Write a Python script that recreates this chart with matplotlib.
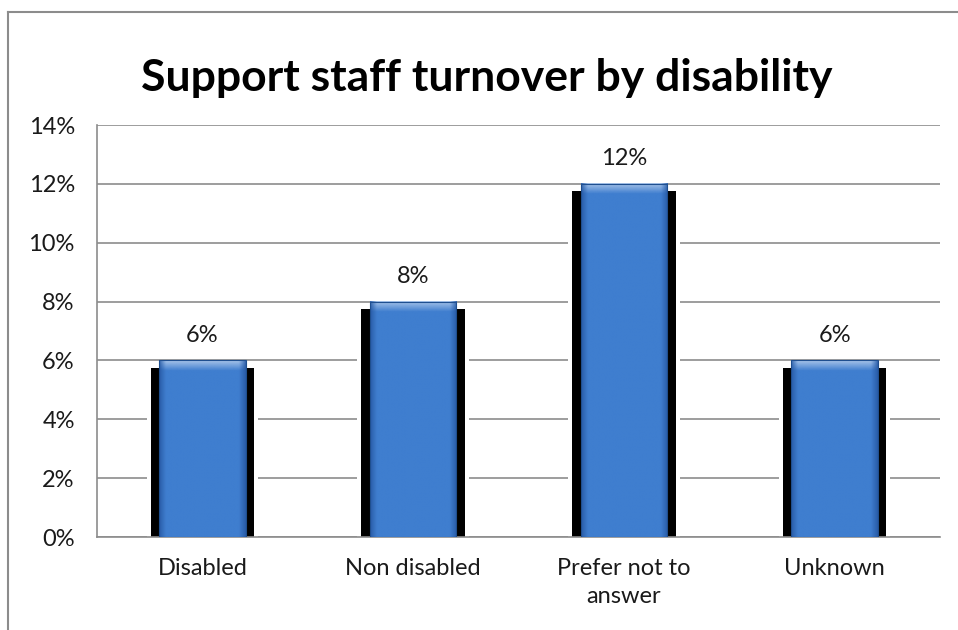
import matplotlib
matplotlib.use("Agg")
import matplotlib.pyplot as plt
import numpy as np
from matplotlib.patches import Rectangle
from matplotlib.lines import Line2D

plt.rcParams['font.family'] = ['Lato', 'DejaVu Sans']

categories = ["Disabled", "Non disabled", "Prefer not to\nanswer", "Unknown"]
turnover_pct = [6, 8, 12, 6]
y_ticks = [0, 2, 4, 6, 8, 10, 12, 14]

W, H = 958, 630
fig = plt.figure(figsize=(W / 100, H / 100), dpi=100)

# outer chart frame
fig.add_artist(Line2D([8 / W, 8 / W], [-0.01, 1 - 12 / H], color="#8c8c8c", lw=1.5))
fig.add_artist(Line2D([8 / W, 1.01], [1 - 12 / H, 1 - 12 / H], color="#8c8c8c", lw=1.5))

ax = fig.add_axes([97 / W, (H - 537) / H, 843 / W, 412 / H])
ax.set_xlim(-0.5, len(categories) - 0.5)
ax.set_ylim(0, 14)

for t in y_ticks:
    ax.axhline(t, color="#8c8c8c", lw=1.2, zorder=0)

for s in ["top", "right"]:
    ax.spines[s].set_visible(False)
ax.spines["left"].set_color("#8c8c8c")
ax.spines["bottom"].set_color("#8c8c8c")
ax.spines["left"].set_linewidth(1.2)
ax.spines["bottom"].set_linewidth(1.2)

bar_w = 0.41
shadow_w = 0.49

# horizontal shading for the bars
grad = np.linspace(0, 1, 200)
edge = np.minimum(grad, 1 - grad)
shade = np.clip(edge / 0.08, 0, 1)
base = np.array([0x3f, 0x7e, 0xcf]) / 255
dark = np.array([0x2a, 0x5c, 0xa8]) / 255
cols = dark[None, :] * (1 - shade[:, None]) + base[None, :] * shade[:, None]

for i, v in enumerate(turnover_pct):
    # dark drop shadow with a thin white rim
    ax.add_patch(Rectangle((i - shadow_w / 2 - 0.02, -0.05), shadow_w + 0.04, v,
                           facecolor="white", edgecolor="none", zorder=1))
    ax.add_patch(Rectangle((i - shadow_w / 2, -0.05), shadow_w, v - 0.2,
                           facecolor="black", edgecolor="none", zorder=2))
    img = np.tile(cols[None, :, :], (60, 1, 1))
    ax.imshow(img, extent=(i - bar_w / 2, i + bar_w / 2, 0, v), aspect="auto",
              zorder=3, interpolation="bilinear", origin="lower")
    # lighter band at the top of the bar
    hl_h = 0.35
    hl = np.tile(np.linspace(0.0, 0.55, 20)[:, None, None], (1, 200, 1))
    hl_rgba = np.concatenate([np.ones((20, 200, 3)), hl], axis=2)
    hl_rgba[:, :, 3] *= shade[None, :] * 0.9 + 0.1
    ax.imshow(hl_rgba, extent=(i - bar_w / 2, i + bar_w / 2, v - hl_h, v), aspect="auto",
              zorder=4, interpolation="bilinear", origin="lower")
    ax.add_patch(Rectangle((i - bar_w / 2, 0), bar_w, v, facecolor="none",
                           edgecolor="#1f4f8f", lw=0.8, zorder=5))
    ax.text(i, v + 0.5, f"{v}%", ha="center", va="bottom", fontsize=17, color="#1a1a1a")

ax.set_xlim(-0.5, len(categories) - 0.5)
ax.set_ylim(0, 14)
ax.set_yticks(y_ticks)
ax.set_yticklabels([f"{t}%" for t in y_ticks], fontsize=17, color="#1a1a1a")
ax.set_xticks(range(len(categories)))
ax.set_xticklabels(categories, fontsize=17, color="#1a1a1a", linespacing=1.45)
ax.tick_params(axis="both", length=0)
ax.tick_params(axis="y", pad=16)
ax.tick_params(axis="x", pad=15)

fig.text(487 / W, 1 - 78 / H, "Support staff turnover by disability", ha="center", va="center",
         fontsize=32, fontweight="bold", color="black")

fig.savefig("out.png", dpi=100)
